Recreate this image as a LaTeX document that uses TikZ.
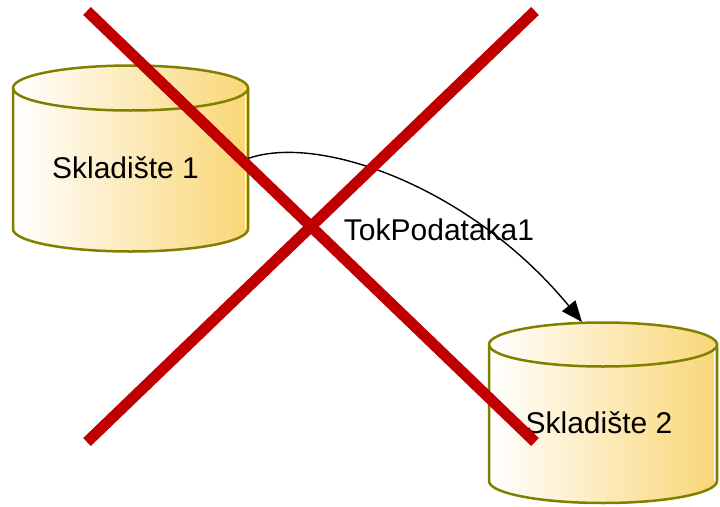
\documentclass[tikz,border=0pt]{standalone}
\usepackage{fontspec}
\setmainfont{Liberation Sans}
\usetikzlibrary{arrows.meta}
\definecolor{storegold}{RGB}{249,214,118}
\definecolor{storeline}{RGB}{128,128,0}
\definecolor{xred}{RGB}{192,0,0}
\tikzset{
  cylfill/.style={left color=white, right color=storegold},
  cylline/.style={draw=storeline, line width=2.5pt, line join=round},
  cylnode/.style={inner sep=0pt, outer sep=0pt, draw=none},
  lbl/.style={inner sep=0pt, anchor=base, font=\fontsize{30}{36}\selectfont},
  flow/.style={draw=black, line width=1.4pt, -{Triangle[length=21pt,width=17pt]}},
  xline/.style={draw=xred, line width=11pt}
}
% #1 x left, #2 x right, #3 y top-ellipse centre, #4 y bottom-ellipse centre, #5 y radius
\newcommand\storecylinder[5]{%
  \pgfmathsetmacro\rxx{(#2-#1)/2}%
  \pgfmathsetmacro\cxx{(#2+#1)/2}%
  \shade[cylfill] (#1,#3) -- (#1,#4) arc[start angle=180,end angle=0,x radius=\rxx,y radius=#5]
     -- (#2,#3) arc[start angle=0,end angle=-180,x radius=\rxx,y radius=#5] -- cycle;
  \draw[white, line width=1pt] (#2-3,#3) -- (#2-3,#4);
  \draw[cylline] (#1,#3) -- (#1,#4) arc[start angle=180,end angle=0,x radius=\rxx,y radius=#5] -- (#2,#3);
  \draw[cylline] (\cxx,#3) ellipse[x radius=\rxx, y radius=#5];
}
\begin{document}
\begin{tikzpicture}[x=1pt,y=-1pt]
\useasboundingbox (0,0) rectangle (720,506);
% cylinders
\storecylinder{13}{248}{88}{229}{22.5}
\storecylinder{489}{717}{344.5}{481}{22}
\node[cylnode, minimum width=235pt, minimum height=186pt] (cyl1) at (130.5,158.5) {};
\node[cylnode, minimum width=228pt, minimum height=181pt] (cyl2) at (603,412.5) {};
% labels
\node[lbl] (t1) at (125.5,178) {Skladište 1};
\node[lbl] (t2) at (599,433) {Skladište 2};
% flow
\draw[flow] (cyl1.east) .. controls (320,133) and (472,188) .. ([xshift=-21pt]cyl2.north);
\node[lbl] (tf) at (439,240) {TokPodataka1};
% cross
\draw[xline] (87,11) -- (535,442);
\draw[xline] (535,11) -- (87,442);
\end{tikzpicture}
\end{document}
